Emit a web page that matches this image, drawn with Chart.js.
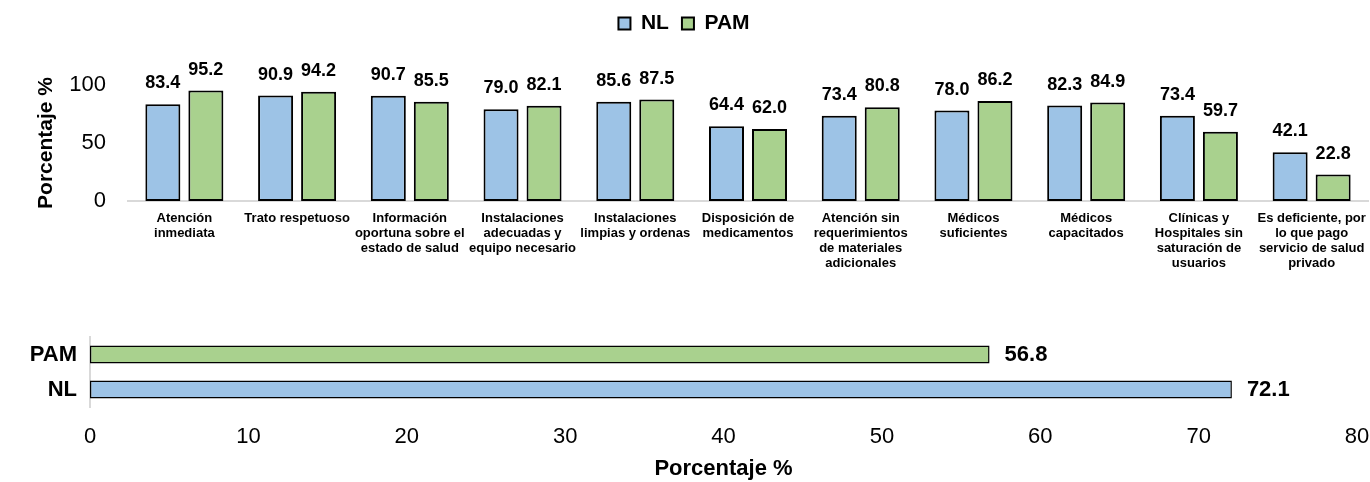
<!DOCTYPE html>
<html>
<head>
<meta charset="utf-8">
<script src="https://cdn.jsdelivr.net/npm/chart.js@4.4.1/dist/chart.umd.min.js"></script>
<style>
  html, body { margin: 0; padding: 0; background: #ffffff; }
  #wrap { position: relative; width: 1370px; height: 482px; }
  #topBox { position: absolute; left: 0; top: 0; width: 1370px; height: 310px; }
  #bottomBox { position: absolute; left: 0; top: 310px; width: 1370px; height: 172px; }
</style>
</head>
<body>
<div id="wrap">
  <div id="topBox"><canvas id="aspects"></canvas></div>
  <div id="bottomBox"><canvas id="overall"></canvas></div>
</div>
<script>
// Aspectos del servicio de salud (etiquetas en varias líneas)
const categories = [
  ['Atención', 'inmediata'],
  ['Trato respetuoso'],
  ['Información', 'oportuna sobre el', 'estado de salud'],
  ['Instalaciones', 'adecuadas y', 'equipo necesario'],
  ['Instalaciones', 'limpias y ordenas'],
  ['Disposición de', 'medicamentos'],
  ['Atención sin', 'requerimientos', 'de materiales', 'adicionales'],
  ['Médicos', 'suficientes'],
  ['Médicos', 'capacitados'],
  ['Clínicas y', 'Hospitales sin', 'saturación de', 'usuarios'],
  ['Es deficiente, por', 'lo que pago', 'servicio de salud', 'privado']
];
const nlValues  = [83.4, 90.9, 90.7, 79.0, 85.6, 64.4, 73.4, 78.0, 82.3, 73.4, 42.1];
const pamValues = [95.2, 94.2, 85.5, 82.1, 87.5, 62.0, 80.8, 86.2, 84.9, 59.7, 22.8];

// Resultado general
const overallGroups = ['PAM', 'NL'];
const overallValues = [56.8, 72.1];

const FONT = "'Liberation Sans', Arial, Helvetica, sans-serif";
const BLUE = '#9DC3E6';
const GREEN = '#A9D18E';
const AXIS_GRAY = '#D9D9D9';

// Escribe el valor de cada barra junto a ella
const valueLabels = {
  id: 'valueLabels',
  afterDatasetsDraw(chart, args, opts) {
    const ctx = chart.ctx;
    ctx.save();
    ctx.font = opts.font;
    ctx.fillStyle = opts.color || '#000';
    chart.data.datasets.forEach((ds, i) => {
      const meta = chart.getDatasetMeta(i);
      meta.data.forEach((el, j) => {
        const txt = Number(ds.data[j]).toFixed(1);
        if (opts.horizontal) {
          ctx.textAlign = 'left';
          ctx.textBaseline = 'middle';
          ctx.fillText(txt, el.x + opts.offset, el.y);
        } else {
          ctx.textAlign = 'center';
          ctx.textBaseline = 'alphabetic';
          ctx.fillText(txt, el.x, el.y - opts.offset);
        }
      });
    });
    ctx.restore();
  }
};

// Deja espacio libre bajo la leyenda para las etiquetas de valor
const legendSpacer = {
  id: 'legendSpacer',
  beforeLayout(chart, args, opts) {
    const lg = chart.legend;
    if (lg && !lg._spaced) {
      const baseFit = lg.fit.bind(lg);
      lg.fit = function () {
        baseFit();
        this.height += opts.extra || 0;
      };
      lg._spaced = true;
    }
  }
};

new Chart(document.getElementById('aspects'), {
  type: 'bar',
  plugins: [valueLabels, legendSpacer],
  data: {
    labels: categories,
    datasets: [
      {
        label: 'NL',
        data: nlValues,
        backgroundColor: BLUE,
        borderColor: '#000000',
        borderWidth: 2,
        borderSkipped: false,
        categoryPercentage: 0.763,
        barPercentage: 0.814
      },
      {
        label: 'PAM',
        data: pamValues,
        backgroundColor: GREEN,
        borderColor: '#000000',
        borderWidth: 2,
        borderSkipped: false,
        categoryPercentage: 0.763,
        barPercentage: 0.814
      }
    ]
  },
  options: {
    responsive: true,
    maintainAspectRatio: false,
    animation: false,
    layout: { padding: { left: 0, right: 2, top: 0, bottom: 0 } },
    plugins: {
      legend: {
        display: true,
        position: 'top',
        labels: {
          font: { family: FONT, size: 21, weight: 'bold' },
          color: '#000000',
          boxWidth: 12,
          boxHeight: 12,
          padding: 13
        }
      },
      legendSpacer: { extra: 41 },
      tooltip: { enabled: false },
      valueLabels: {
        font: "bold 18px " + FONT,
        color: '#000000',
        offset: 16,
        horizontal: false
      }
    },
    scales: {
      x: {
        afterFit(scale) {
          scale.height = 109;
          scale.paddingLeft = 0;
          scale.paddingRight = 0;
        },
        grid: { display: false, drawTicks: false },
        border: { display: true, color: AXIS_GRAY, width: 2 },
        ticks: {
          autoSkip: false,
          maxRotation: 0,
          minRotation: 0,
          padding: 10,
          color: '#000000',
          font: { family: FONT, size: 13, weight: 'bold', lineHeight: 1.15 }
        }
      },
      y: {
        min: 0,
        max: 100,
        afterFit(scale) { scale.width = 128; },
        grid: { display: false, drawTicks: false },
        border: { display: false },
        ticks: {
          stepSize: 50,
          padding: 22,
          color: '#000000',
          font: { family: FONT, size: 22 }
        },
        title: {
          display: true,
          text: 'Porcentaje %',
          color: '#000000',
          font: { family: FONT, size: 21, weight: 'bold' },
          padding: { top: 34, bottom: 0 }
        }
      }
    }
  }
});

new Chart(document.getElementById('overall'), {
  type: 'bar',
  plugins: [valueLabels],
  data: {
    labels: overallGroups,
    datasets: [
      {
        label: 'General',
        data: overallValues,
        backgroundColor: [GREEN, BLUE],
        borderColor: '#000000',
        borderWidth: 1.5,
        borderSkipped: false,
        categoryPercentage: 1.0,
        barPercentage: 0.52
      }
    ]
  },
  options: {
    indexAxis: 'y',
    responsive: true,
    maintainAspectRatio: false,
    animation: false,
    layout: { padding: { left: 0, right: 13, top: 27, bottom: 0 } },
    plugins: {
      legend: { display: false },
      tooltip: { enabled: false },
      valueLabels: {
        font: "bold 22px " + FONT,
        color: '#000000',
        offset: 15,
        horizontal: true
      }
    },
    scales: {
      x: {
        min: 0,
        max: 80,
        afterFit(scale) {
          scale.height = 75;
          scale.paddingLeft = 0;
          scale.paddingRight = 0;
        },
        grid: { display: false, drawTicks: false },
        border: { display: false },
        ticks: {
          stepSize: 10,
          padding: 17,
          color: '#000000',
          font: { family: FONT, size: 22 }
        },
        title: {
          display: true,
          text: 'Porcentaje %',
          color: '#000000',
          font: { family: FONT, size: 22, weight: 'bold' },
          padding: { top: 0, bottom: 0 }
        }
      },
      y: {
        afterFit(scale) { scale.width = 90; },
        grid: { display: false, drawTicks: false },
        border: { display: true, color: AXIS_GRAY, width: 2 },
        ticks: {
          padding: 13,
          color: '#000000',
          font: { family: FONT, size: 22, weight: 'bold' }
        }
      }
    }
  }
});
</script>
</body>
</html>
